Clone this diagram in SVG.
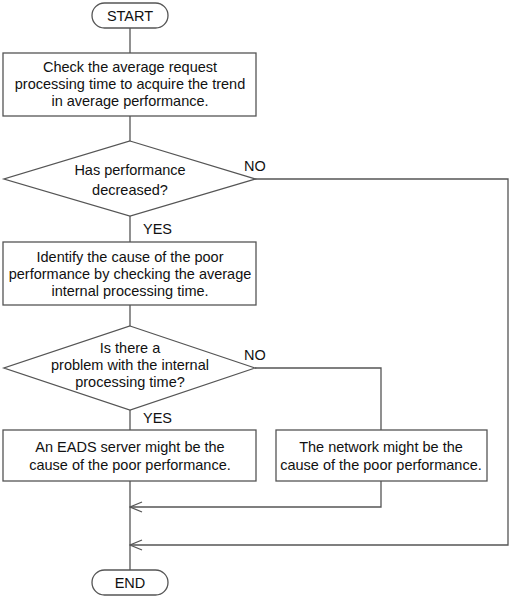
<svg xmlns="http://www.w3.org/2000/svg" width="511" height="597" viewBox="0 0 511 597">
<style>
.s{fill:#fff;stroke:#555;stroke-width:1.3}
.c{fill:none;stroke:#555;stroke-width:1.3}
text{font-family:"Liberation Sans",Arial,sans-serif;font-size:14.5px;fill:#111;text-anchor:middle}
.l{text-anchor:start}
</style>
<defs>
<marker id="ah" markerWidth="14" markerHeight="12" refX="13" refY="6" orient="auto" markerUnits="userSpaceOnUse">
<path d="M1,1 L13,6 L1,11" fill="none" stroke="#555" stroke-width="1.3"/>
</marker>
</defs>
<g id="connectors">
<path class="c" d="M130,28 V53"/>
<path class="c" d="M130,116 V141"/>
<path class="c" d="M130,216 V242"/>
<path class="c" d="M130,305 V326"/>
<path class="c" d="M130,410 V430"/>
<path class="c" d="M130,481 V570"/>
<path class="c" d="M255,179 H508 V545 H130" marker-end="url(#ah)"/>
<path class="c" d="M255,368 H381 V430"/>
<path class="c" d="M381,481 V507 H130" marker-end="url(#ah)"/>
<text class="l" x="244" y="171">NO</text>
<text class="l" x="244" y="360">NO</text>
<text class="l" x="143" y="234">YES</text>
<text class="l" x="143" y="423">YES</text>
</g>
<g id="start">
<rect class="s" x="92" y="3" width="76" height="25" rx="12.5"/>
<text x="130" y="21">START</text>
</g>
<g id="check">
<rect class="s" x="3" y="53" width="253" height="63"/>
<text x="130" y="72">Check the average request</text>
<text x="130" y="89">processing time to acquire the trend</text>
<text x="130" y="106">in average performance.</text>
</g>
<g id="decreased">
<polygon class="s" points="130,141 255,179 130,216 4,179"/>
<text x="130" y="175">Has performance</text>
<text x="130" y="195">decreased?</text>
</g>
<g id="identify">
<rect class="s" x="3" y="242" width="253" height="63"/>
<text x="130" y="262">Identify the cause of the poor</text>
<text x="130" y="279">performance by checking the average</text>
<text x="130" y="296">internal processing time.</text>
</g>
<g id="problem">
<polygon class="s" points="130,326 255,368 130,410 4,368"/>
<text x="130" y="353">Is there a</text>
<text x="130" y="370">problem with the internal</text>
<text x="130" y="387">processing time?</text>
</g>
<g id="eads">
<rect class="s" x="3" y="430" width="253" height="51"/>
<text x="130" y="452">An EADS server might be the</text>
<text x="130" y="470">cause of the poor performance.</text>
</g>
<g id="network">
<rect class="s" x="276" y="430" width="211" height="51"/>
<text x="381" y="452">The network might be the</text>
<text x="381" y="470">cause of the poor performance.</text>
</g>
<g id="end">
<rect class="s" x="92" y="570" width="76" height="25" rx="12.5"/>
<text x="130" y="588">END</text>
</g>
</svg>
